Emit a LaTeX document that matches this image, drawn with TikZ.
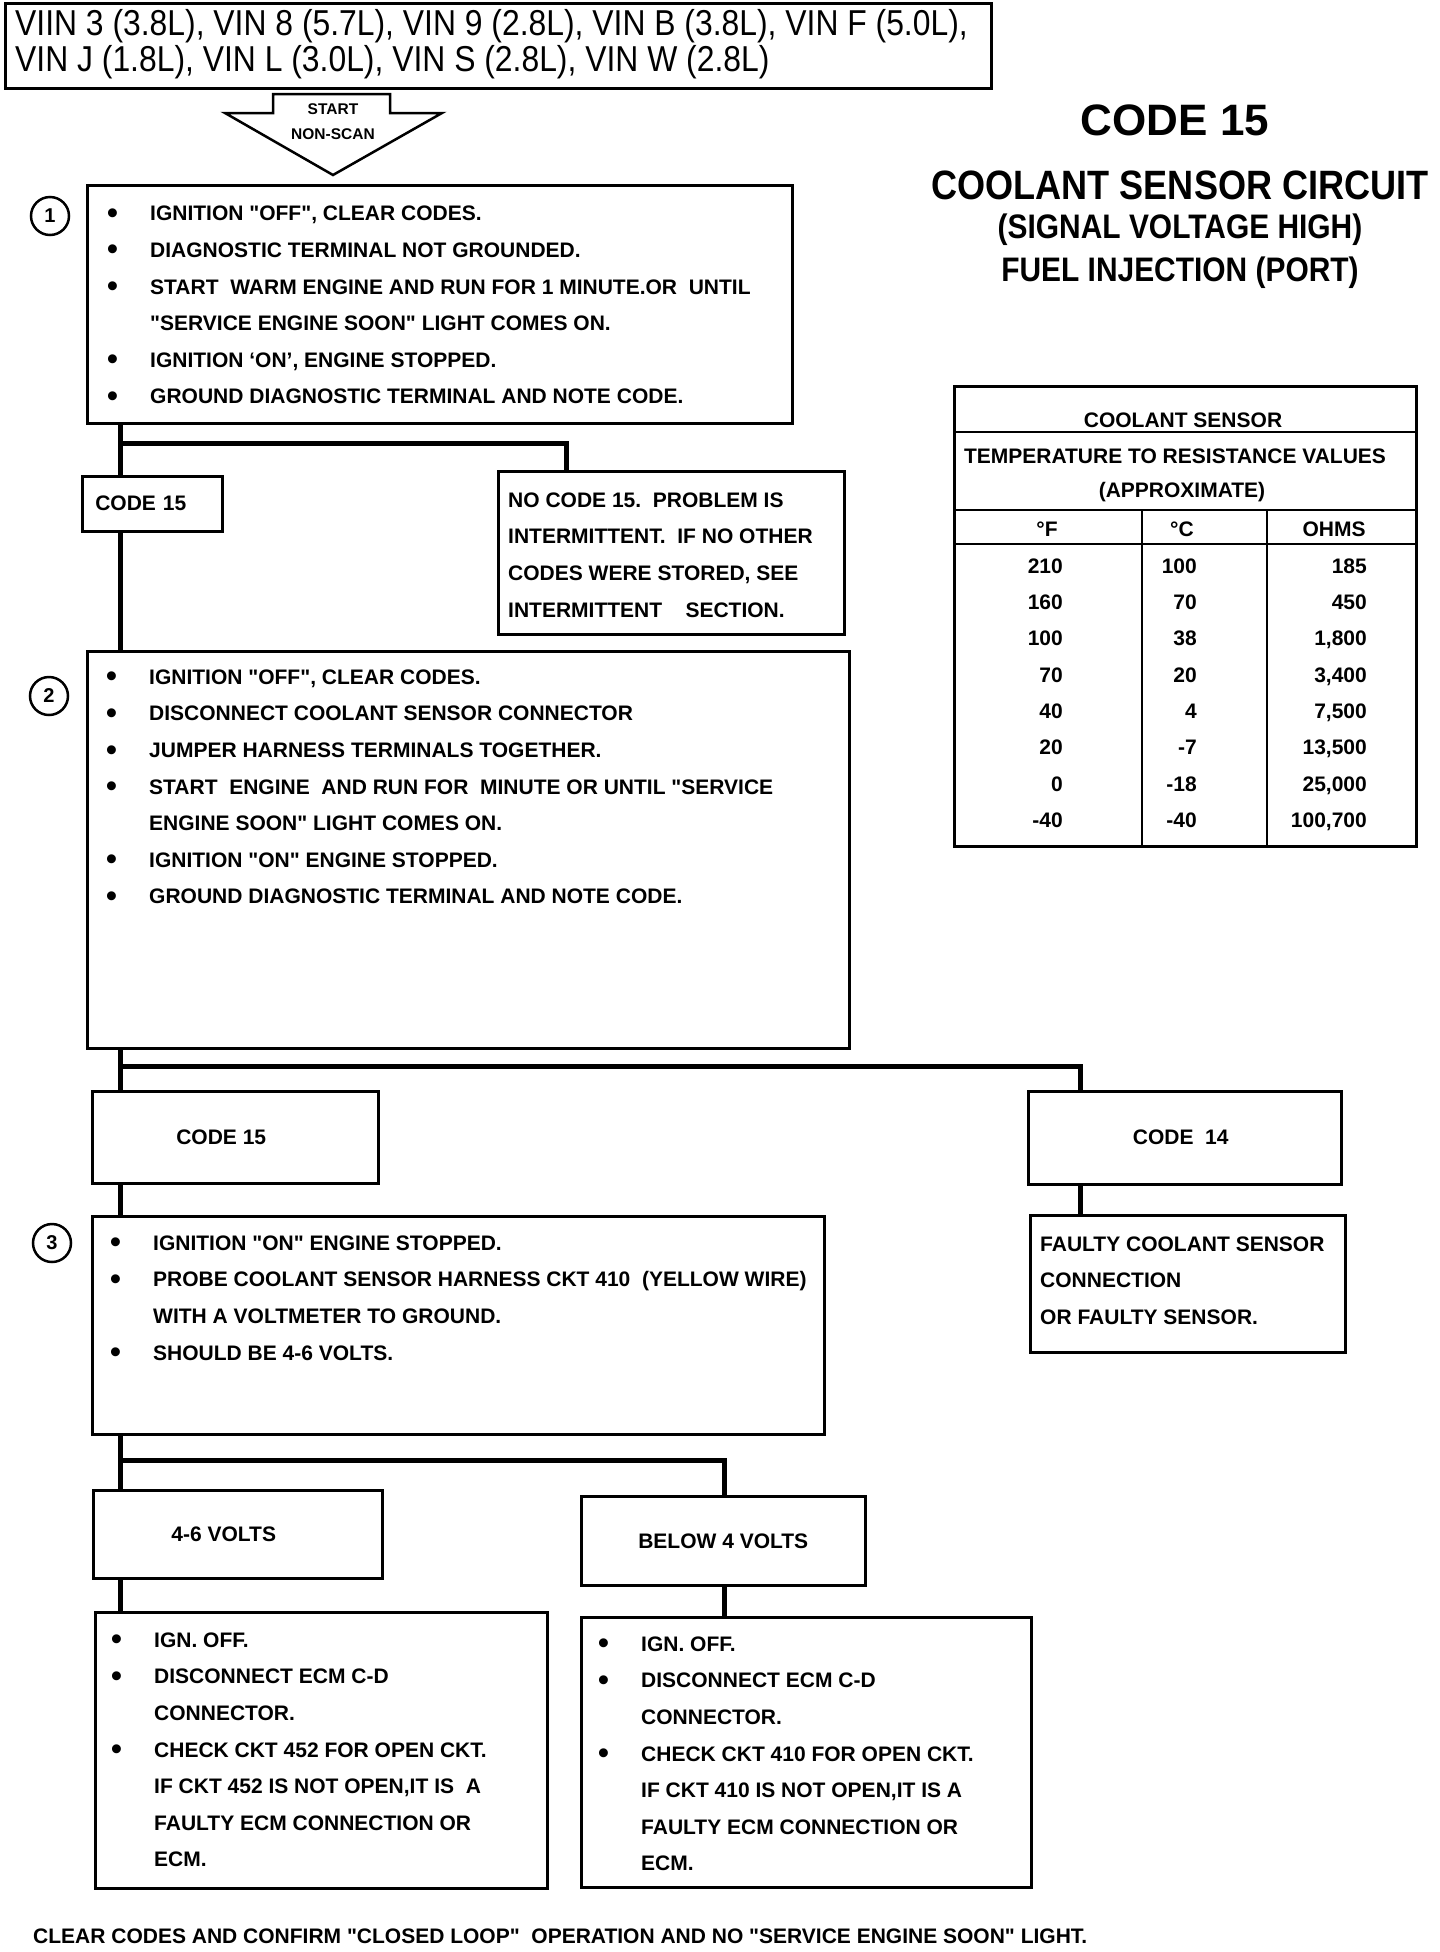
\documentclass[tikz,border=0pt]{standalone}
\usepackage{fontspec}
\setmainfont{Liberation Sans}
\newfontfamily\vinfont[FakeStretch=0.885]{Liberation Sans}
\newfontfamily\titlefont[FakeStretch=0.88]{Liberation Sans}
\usetikzlibrary{positioning}
\newcommand{\bul}{\makebox[43pt][l]{\raisebox{-2.5pt}{\fontsize{31}{31}\selectfont\textbullet}}}
\newcommand{\ind}{\hspace*{43pt}}
\newcommand{\q}{\textquotedbl}

\begin{document}
\begin{tikzpicture}[x=1pt,y=-1pt]
	\tikzstyle{box} = [draw,line width=2.5pt,anchor=north west,inner sep=0,font=\fontsize{21}{21}\selectfont\bfseries];
	\tikzstyle{wire} = [line width=5pt];
	\tikzstyle{steptext} = [anchor=north west,align=left,inner sep=0,font=\fontsize{21}{36.6}\selectfont\bfseries];
	\tikzstyle{stepnum} = [draw,circle,line width=2.5pt,minimum size=38pt,inner sep=0,font=\fontsize{20}{20}\selectfont\bfseries];
	\tikzstyle{tabletext} = [inner sep=0,font=\fontsize{21}{36.3}\selectfont\bfseries];
	\useasboundingbox (0,0) rectangle (1440,1952);
	% header and start arrow
	\node at (4,2) (vin) [box,minimum width=986pt,minimum height=85pt] {};
	\node at ([shift={(11,7)}]vin.north west) (vintext) [anchor=north west,align=left,inner sep=0,font=\vinfont\fontsize{36}{36}\selectfont] {VIIN 3 (3.8L), VIN 8 (5.7L), VIN 9 (2.8L), VIN B (3.8L), VIN F (5.0L),\\VIN J (1.8L), VIN L (3.0L), VIN S (2.8L), VIN W (2.8L)};
	\draw[line width=2.5pt] (273,94) -- (390,94) -- (390,113) -- (442,113) -- (333,175) -- (225,113) -- (273,113) -- cycle;
	\node at (333,122) (start) [align=center,inner sep=0,font=\fontsize{15.5}{25}\selectfont\bfseries] {START\\NON-SCAN};
	% title
	\node at (1175,135) (title) [anchor=base,inner sep=0,font=\fontsize{44}{44}\selectfont\bfseries] {CODE 15};
	\node at (1180,199) (circuit) [anchor=base,inner sep=0,font=\titlefont\fontsize{41}{41}\selectfont\bfseries] {COOLANT SENSOR CIRCUIT};
	\node at (1180,238) (signal) [anchor=base,inner sep=0,font=\titlefont\fontsize{34}{34}\selectfont\bfseries] {(SIGNAL VOLTAGE HIGH)};
	\node at (1180,281) (fuel) [anchor=base,inner sep=0,font=\titlefont\fontsize{34}{34}\selectfont\bfseries] {FUEL INJECTION (PORT)};
	% step 1
	\node at (50,216) (num1) [stepnum] {1};
	\node at (86,184) (b1) [box,minimum width=705pt,minimum height=238pt] {};
	\node at ([shift={(21,22)}]b1.north west) (b1text) [steptext] {\bul IGNITION \q OFF\q, CLEAR CODES.\\
		\bul DIAGNOSTIC TERMINAL NOT GROUNDED.\\
		\bul START\ \ WARM ENGINE AND RUN FOR 1 MINUTE.OR\ \ UNTIL\\
		\ind \q SERVICE ENGINE SOON\q\ LIGHT COMES ON.\\
		\bul IGNITION `ON', ENGINE STOPPED.\\
		\bul GROUND DIAGNOSTIC TERMINAL AND NOTE CODE.};
	\node at (81,475) (c15a) [box,minimum width=140pt,minimum height=55pt,text width=114pt,inner xsep=13pt,align=left] {CODE 15};
	\node at (497,470) (nocode) [box,minimum width=346pt,minimum height=163pt] {};
	\node at ([shift={(11,22.5)}]nocode.north west) (nocodetext) [steptext] {NO CODE 15.\ \ PROBLEM IS\\
		INTERMITTENT.\ \ IF NO OTHER\\
		CODES WERE STORED, SEE\\
		INTERMITTENT\ \ \ \ SECTION.};
	\draw[wire] ([xshift=34pt]b1.south west) -- ([xshift=39pt]c15a.north west);
	\draw[wire] ([xshift=34pt,yshift=-19pt]b1.south west) -| ([xshift=69pt]nocode.north west);
	% step 2
	\node at (49,696) (num2) [stepnum] {2};
	\node at (86,650) (b2) [box,minimum width=762pt,minimum height=397pt] {};
	\node at ([shift={(20,19.5)}]b2.north west) (b2text) [steptext] {\bul IGNITION \q OFF\q, CLEAR CODES.\\
		\bul DISCONNECT COOLANT SENSOR CONNECTOR\\
		\bul JUMPER HARNESS TERMINALS TOGETHER.\\
		\bul START\ \ ENGINE\ \ AND RUN FOR\ \ MINUTE OR UNTIL \q SERVICE\\
		\ind ENGINE SOON\q\ LIGHT COMES ON.\\
		\bul IGNITION \q ON\q\ ENGINE STOPPED.\\
		\bul GROUND DIAGNOSTIC TERMINAL AND NOTE CODE.};
	\draw[wire] ([xshift=39pt]c15a.south west) -- ([xshift=34pt]b2.north west);
	\node at (91,1090) (c15b) [box,minimum width=286pt,minimum height=92pt] {CODE 15\hspace*{28pt}};
	\node at (1027,1090) (c14) [box,minimum width=313pt,minimum height=93pt] {CODE\ \ 14\hspace*{8pt}};
	\node at (1029,1214) (faulty) [box,minimum width=315pt,minimum height=137pt] {};
	\node at ([shift={(11,22.5)}]faulty.north west) (faultytext) [steptext] {FAULTY COOLANT SENSOR\\
		CONNECTION\\
		OR FAULTY SENSOR.};
	\draw[wire] ([xshift=34pt]b2.south west) -- ([xshift=29pt]c15b.north west);
	\draw[wire] ([xshift=34pt,yshift=-17pt]b2.south west) -| ([xshift=53pt]c14.north west);
	\draw[wire] ([xshift=53pt]c14.south west) -- ([xshift=51pt]faulty.north west);
	% step 3
	\node at (52,1243) (num3) [stepnum] {3};
	\node at (91,1215) (b3) [box,minimum width=732pt,minimum height=218pt] {};
	\node at ([shift={(19,20.5)}]b3.north west) (b3text) [steptext] {\bul IGNITION \q ON\q\ ENGINE STOPPED.\\
		\bul PROBE COOLANT SENSOR HARNESS CKT 410\ \ (YELLOW WIRE)\\
		\ind WITH A VOLTMETER TO GROUND.\\
		\bul SHOULD BE 4-6 VOLTS.};
	\draw[wire] ([xshift=29pt]c15b.south west) -- ([xshift=29pt]b3.north west);
	\node at (92,1489) (v46) [box,minimum width=289pt,minimum height=88pt] {4-6 VOLTS\hspace*{28pt}};
	\node at (580,1495) (below) [box,minimum width=284pt,minimum height=89pt] {BELOW 4 VOLTS};
	\draw[wire] ([xshift=29pt]b3.south west) -- ([xshift=28pt]v46.north west);
	\draw[wire] ([xshift=29pt,yshift=-25pt]b3.south west) -| ([xshift=144pt]below.north west);
	% results
	\node at (94,1611) (b4l) [box,minimum width=452pt,minimum height=276pt] {};
	\node at ([shift={(17,21.5)}]b4l.north west) (b4ltext) [steptext] {\bul IGN. OFF.\\
		\bul DISCONNECT ECM C-D\\
		\ind CONNECTOR.\\
		\bul CHECK CKT 452 FOR OPEN CKT.\\
		\ind IF CKT 452 IS NOT OPEN,IT IS\ \ A\\
		\ind FAULTY ECM CONNECTION OR\\
		\ind ECM.};
	\node at (580,1616) (b4r) [box,minimum width=450pt,minimum height=270pt] {};
	\node at ([shift={(18,20.5)}]b4r.north west) (b4rtext) [steptext] {\bul IGN. OFF.\\
		\bul DISCONNECT ECM C-D\\
		\ind CONNECTOR.\\
		\bul CHECK CKT 410 FOR OPEN CKT.\\
		\ind IF CKT 410 IS NOT OPEN,IT IS A\\
		\ind FAULTY ECM CONNECTION OR\\
		\ind ECM.};
	\draw[wire] ([xshift=28pt]v46.south west) -- ([xshift=26pt]b4l.north west);
	\draw[wire] ([xshift=144pt]below.south west) -- ([xshift=144pt]b4r.north west);
	\node at (33,1943) (footer) [anchor=base west,inner sep=0,font=\fontsize{21}{21}\selectfont\bfseries] {CLEAR CODES AND CONFIRM \q CLOSED LOOP\q\ \ OPERATION AND NO \q SERVICE ENGINE SOON\q\ LIGHT.};
	% resistance table
	\node at (953,385) (tbl) [box,minimum width=462pt,minimum height=460pt] {};
	\draw[line width=2.5pt] ([yshift=-47pt]tbl.north west) -- ([yshift=-47pt]tbl.north east);
	\draw[line width=2.5pt] ([yshift=-125pt]tbl.north west) -- ([yshift=-125pt]tbl.north east);
	\draw[line width=2.5pt] ([yshift=-159pt]tbl.north west) -- ([yshift=-159pt]tbl.north east);
	\draw[line width=2.5pt] ([shift={(189,125)}]tbl.north west) -- ([xshift=189pt]tbl.south west);
	\draw[line width=2.5pt] ([shift={(314,125)}]tbl.north west) -- ([xshift=314pt]tbl.south west);
	\node at (1183,420) (tblhead) [tabletext] {COOLANT SENSOR};
	\node at (1175,456) (tbltemp) [tabletext] {TEMPERATURE TO RESISTANCE VALUES};
	\node at (1182,492) (tblapprox) [tabletext] {(APPROXIMATE)};
	\node at (1047,529) (colF) [tabletext] {°F};
	\node at (1182,529) (colC) [tabletext] {°C};
	\node at (1334,529) (colO) [tabletext] {OHMS};
	\node at (1063,558.5) (valF) [tabletext,anchor=north east,align=right] {210\\160\\100\\70\\40\\20\\0\\-40};
	\node at (1197,558.5) (valC) [tabletext,anchor=north east,align=right] {100\\70\\38\\20\\4\\-7\\-18\\-40};
	\node at (1367,558.5) (valO) [tabletext,anchor=north east,align=right] {185\\450\\1,800\\3,400\\7,500\\13,500\\25,000\\100,700};
\end{tikzpicture}
\end{document}
